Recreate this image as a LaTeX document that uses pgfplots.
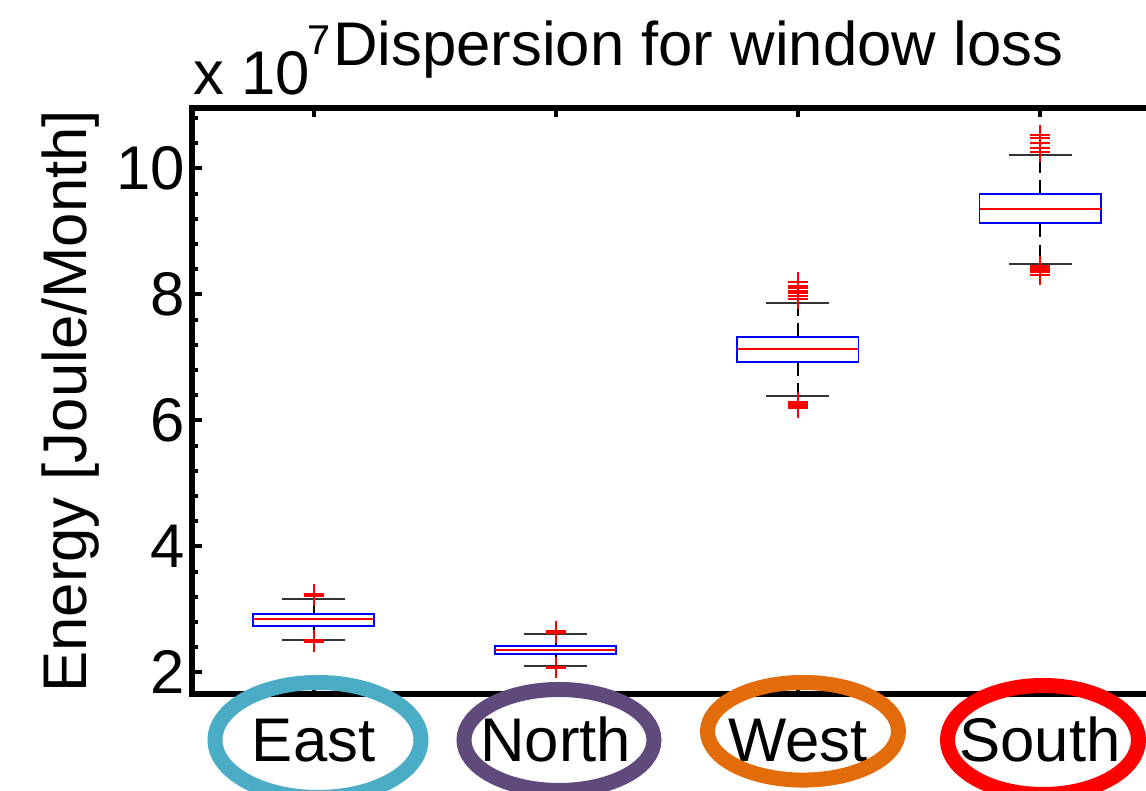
\documentclass[border=0pt]{standalone}
\usepackage{fontspec}
\setmainfont{Liberation Sans}
\usepackage{pgfplots}
\pgfplotsset{compat=1.18}
\usepgfplotslibrary{statistics}
\definecolor{cEast}{RGB}{75,172,198}
\definecolor{cNorth}{RGB}{96,74,123}
\definecolor{cWest}{RGB}{227,108,10}
\definecolor{cSouth}{RGB}{255,0,0}
\newcommand{\bigf}{\fontsize{18.5}{21}\selectfont}
\begin{document}
\begin{tikzpicture}
\begin{axis}[
  width=290.6pt, height=175.95pt, scale only axis,
  xmin=0.5, xmax=4.5, ymin=1.65, ymax=10.96,
  xtick={1,2,3,4}, xticklabels={East,North,West,South},
  ytick={2,4,6,8,10},
  minor ytick={2.4,2.8,3.2,3.6,4.4,4.8,5.2,5.6,6.4,6.8,7.2,7.6,8.4,8.8,9.2,9.6,10.4,10.8},
  tick align=inside,
  major tick length=2.8pt, minor tick length=1.6pt,
  tick style={black, line width=1.2pt},
  axis line style={black, line width=1.8pt},
  tick label style={font=\bigf},
  /pgf/number format/assume math mode=true,
  yticklabel style={inner xsep=2.1pt},
  xticklabel style={anchor=base, yshift=-20.25pt},
  scaled y ticks=false,
  clip=false,
  boxplot/draw direction=y,
  boxplot/every box/.style={draw=blue, line width=0.55pt},
  boxplot/every median/.style={draw=red, line width=0.65pt},
  boxplot/every whisker/.style={draw=black, line width=0.6pt, dash pattern=on 4.2pt off 2.2pt},
  bx/.style={mark=+, mark size=3pt, mark options={red, line width=0.6pt, solid}},
  cap/.style={black!80, line width=0.6pt, no marks, forget plot},
]
% East
\addplot[bx, boxplot prepared={draw position=1, median=2.85, upper quartile=2.93, lower quartile=2.74,
  upper whisker=3.17, lower whisker=2.52, box extend=0.5, whisker extend=0}]
  table[row sep=\\, y index=0] {data\\ 3.21\\ 3.22\\ 3.23\\ 3.24\\ 3.25\\ 2.49\\ 2.50\\ 2.51\\};
\addplot[cap] coordinates {(0.87,3.17) (1.13,3.17)};
\addplot[cap] coordinates {(0.87,2.52) (1.13,2.52)};
% North
\addplot[bx, boxplot prepared={draw position=2, median=2.36, upper quartile=2.42, lower quartile=2.29,
  upper whisker=2.61, lower whisker=2.10, box extend=0.5, whisker extend=0}]
  table[row sep=\\, y index=0] {data\\ 2.63\\ 2.64\\ 2.65\\ 2.07\\ 2.08\\ 2.09\\};
\addplot[cap] coordinates {(1.87,2.61) (2.13,2.61)};
\addplot[cap] coordinates {(1.87,2.10) (2.13,2.10)};
% West
\addplot[bx, boxplot prepared={draw position=3, median=7.13, upper quartile=7.32, lower quartile=6.93,
  upper whisker=7.87, lower whisker=6.38, box extend=0.5, whisker extend=0}]
  table[row sep=\\, y index=0] {data\\ 7.92\\ 7.97\\ 8.02\\ 8.06\\ 8.10\\ 8.14\\ 8.19\\ 6.20\\ 6.22\\ 6.24\\ 6.26\\ 6.28\\ 6.30\\};
\addplot[cap] coordinates {(2.87,7.87) (3.13,7.87)};
\addplot[cap] coordinates {(2.87,6.38) (3.13,6.38)};
% South
\addplot[bx, boxplot prepared={draw position=4, median=9.35, upper quartile=9.59, lower quartile=9.13,
  upper whisker=10.22, lower whisker=8.48, box extend=0.5, whisker extend=0}]
  table[row sep=\\, y index=0] {data\\ 10.26\\ 10.33\\ 10.41\\ 10.48\\ 10.53\\ 8.31\\ 8.36\\ 8.39\\ 8.42\\ 8.45\\};
\addplot[cap] coordinates {(3.87,10.22) (4.13,10.22)};
\addplot[cap] coordinates {(3.87,8.48) (4.13,8.48)};

\coordinate (O) at (rel axis cs:0,0);
% annotation ellipses around the category labels
\draw[cEast, line width=4.5pt] ([shift={(37.65pt,-13.65pt)}]rel axis cs:0,0) ellipse [x radius=30.9pt, y radius=17.25pt];
\draw[cNorth, line width=4.5pt] ([shift={(109.95pt,-13.65pt)}]rel axis cs:0,0) ellipse [x radius=28.5pt, y radius=15.15pt];
\draw[cWest, line width=4.5pt] ([shift={(183.15pt,-11.04pt)}]rel axis cs:0,0) ellipse [x radius=28.65pt, y radius=14.64pt];
\draw[cSouth, line width=4.5pt] ([shift={(255.15pt,-13.65pt)}]rel axis cs:0,0) ellipse [x radius=28.65pt, y radius=16.35pt];
% title, exponent, y label
\node[anchor=base west, inner sep=0pt, font=\bigf] at ([shift={(42pt,12.7pt)}]rel axis cs:0,1) {Dispersion for window loss};
\node[anchor=base west, inner sep=0pt, font=\bigf] at ([shift={(0pt,3.9pt)}]rel axis cs:0,1) {x 10\hspace{-0.6pt}\raisebox{12pt}{\fontsize{12.5}{14}\selectfont 7}};
\node[rotate=90, anchor=base, inner sep=0pt, font=\bigf] at ([xshift=-31.65pt]rel axis cs:0,0.5) {Energy [Joule/Month]};
\end{axis}
\pgfresetboundingbox
\useasboundingbox ([shift={(-57.75pt,-28.95pt)}]O) rectangle ([shift={(286.05pt,208.35pt)}]O);
\end{tikzpicture}
\end{document}
